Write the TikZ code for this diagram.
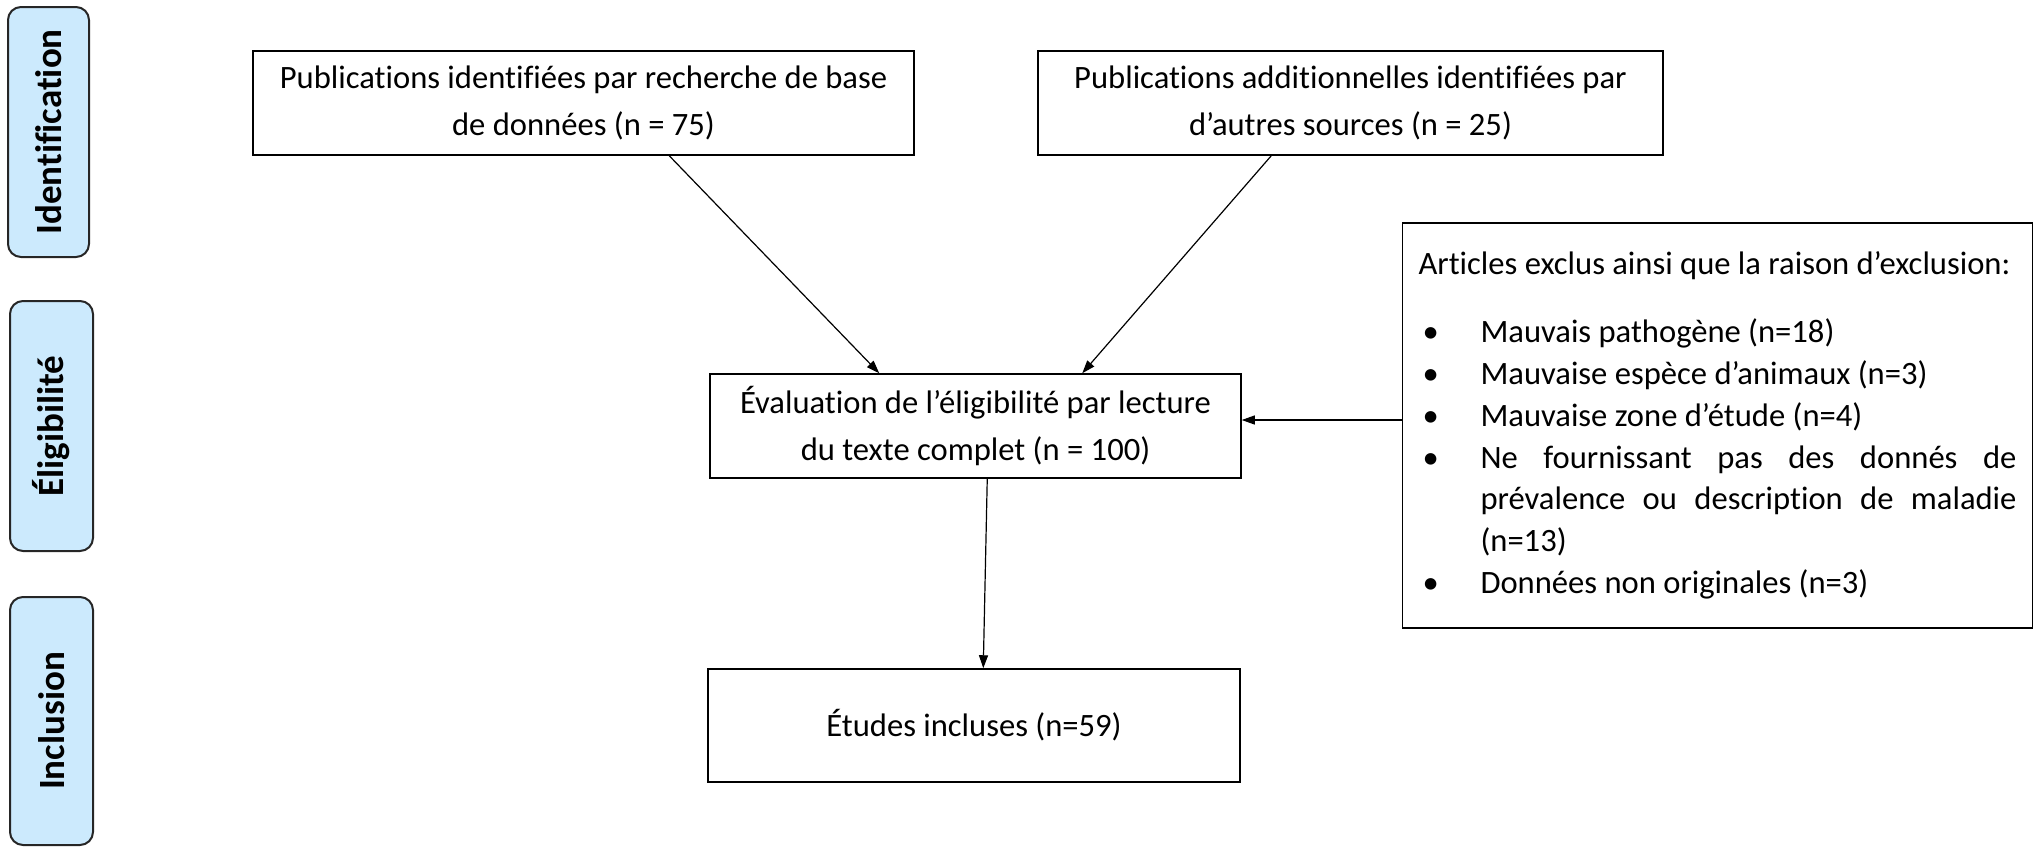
\documentclass[tikz,border=0pt]{standalone}
\usepackage{fontspec}
\setmainfont{Carlito}[Ligatures={TeX,NoCommon}]
\usetikzlibrary{arrows.meta,calc}
\definecolor{phase}{RGB}{204,234,253}
\begin{document}
\begin{tikzpicture}[x=0.5pt,y=-0.5pt,
  box/.style={draw, line width=0.75pt, align=center, font=\fontsize{16.3}{23.5}\selectfont, inner sep=0pt},
  phasebox/.style={draw=black!85, line width=1pt, fill=phase, rounded corners=6.5pt, rotate=90,
    font=\fontsize{18.5}{22}\selectfont\bfseries, inner sep=0pt},
  arr/.style={-{Triangle[length=6.5pt,width=4.5pt]}, line width=0.6pt}]
\useasboundingbox (0,0) rectangle (2044,847);

% phase labels
\node[phasebox, minimum width=125pt, minimum height=40.5pt] (pid) at (48.5,132) {Identification};
\node[phasebox, minimum width=125pt, minimum height=41.5pt] (pel) at (51.5,426) {Éligibilité};
\node[phasebox, minimum width=124pt, minimum height=41.5pt] (pin) at (51.5,721) {Inclusion};

% boxes
\node[box, minimum width=330.5pt, minimum height=52pt] (b1) at (583.5,103)
  {Publications identifiées par recherche de base\\de données (n = 75)};
\node[box, minimum width=312.5pt, minimum height=52pt] (b2) at (1350.5,103)
  {Publications additionnelles identifiées par\\d’autres sources (n = 25)};
\node[box, minimum width=265.5pt, minimum height=52pt] (ev) at (975.5,426)
  {Évaluation de l’éligibilité par lecture\\du texte complet (n = 100)};
\node[box, minimum width=266pt, minimum height=56.5pt] (inc) at (974,725.5)
  {Études incluses (n=59)};
\node[draw, line width=0.75pt, minimum width=314.5pt, minimum height=202.5pt,
      text width=299pt, align=justify, inner xsep=8pt, inner ysep=0pt,
      font=\fontsize{16.3}{20.9}\selectfont] (ex) at (1717.5,425.5)
  {\vspace*{4pt}%
   Articles exclus ainsi que la raison d’exclusion:\par
   \vspace{9pt}%
   \begin{list}{\makebox[\labelwidth][l]{\hspace{2pt}\textbullet}}{%
     \setlength\leftmargin{31pt}\setlength\labelwidth{26pt}\setlength\labelsep{5pt}%
     \setlength\itemsep{0pt}\setlength\parsep{0pt}\setlength\topsep{0pt}\setlength\partopsep{0pt}}
   \item Mauvais pathogène (n=18)
   \item Mauvaise espèce d’animaux (n=3)
   \item Mauvaise zone d’étude (n=4)
   \item Ne fournissant pas des donnés de\break prévalence ou description de maladie\break (n=13)
   \item Données non originales (n=3)
   \end{list}};

% connectors
\coordinate (b1o) at ($(b1.south west)+(417,0)$);
\coordinate (ev1) at ($(ev.north west)+(170,0)$);
\coordinate (b2o) at ($(b2.south west)+(234,0)$);
\coordinate (ev2) at ($(ev.north west)+(373,0)$);
\coordinate (evo) at ($(ev.south west)+(278,0)$);
\coordinate (inci) at ($(inc.north west)+(276,0)$);
\draw[arr] (b1o) -- (ev1);
\draw[arr] (b2o) -- (ev2);
\draw[arr] (ex.west |- 0,420) -- (ev.east |- 0,420);
\draw[arr] (evo) -- (inci);
\end{tikzpicture}
\end{document}
